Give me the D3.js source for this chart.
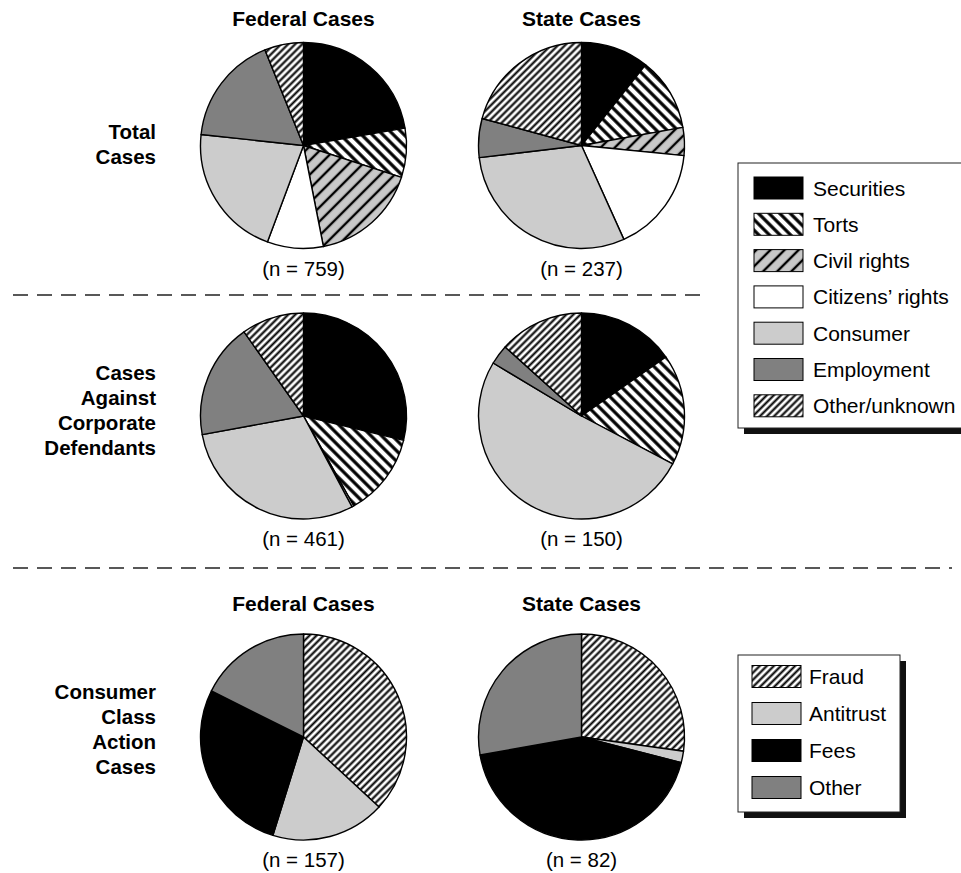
<!DOCTYPE html>
<html>
<head>
<meta charset="utf-8">
<script src="https://cdnjs.cloudflare.com/ajax/libs/d3/7.8.5/d3.min.js"></script>
<style>
  body { margin: 0; background: #fff; }
  svg { display: block; font-family: "Liberation Sans", Arial, sans-serif; }
</style>
</head>
<body>
<div id="chart"></div>
<script>
/////////////////////////////////////////////
//////////////// Data ///////////////////////
/////////////////////////////////////////////

// case types (top two rows), percent of cases
var caseTypes = ["Securities", "Torts", "Civil rights", "Citizens\u2019 rights", "Consumer", "Employment", "Other/unknown"];
var totalFederal = [22.3, 7.7, 16.9, 8.8, 21.0, 17.2, 6.1];
var totalState   = [10.7, 11.5, 4.4, 16.7, 29.9, 6.1, 20.8];
var corpFederal  = [28.8, 13.1, 0, 0.3, 29.9, 18.1, 9.8];
var corpState    = [15.3, 17.4, 0, 0, 50.9, 3.1, 13.3];

// consumer case types (bottom row)
var consumerTypes   = ["Fraud", "Antitrust", "Fees", "Other"];
var consumerFederal = [36.9, 17.9, 27.6, 17.6];
var consumerState   = [27.2, 1.8, 43.2, 27.8];

var nLabels = ["(n = 759)", "(n = 237)", "(n = 461)", "(n = 150)", "(n = 157)", "(n = 82)"];
var colTitles = ["Federal Cases", "State Cases"];
var rowLabels = [["Total", "Cases"], ["Cases", "Against", "Corporate", "Defendants"], ["Consumer", "Class", "Action", "Cases"]];

/////////////////////////////////////////////
//////////////// Setup //////////////////////
/////////////////////////////////////////////

var width = 961, height = 873, radius = 103;

var svg = d3.select("#chart").append("svg")
  .attr("width", width)
  .attr("height", height);

// hatch patterns
var defs = svg.append("defs");
function hatch(id, bg, size, stroke, angle) {
  var p = defs.append("pattern")
    .attr("id", id)
    .attr("patternUnits", "userSpaceOnUse")
    .attr("width", size).attr("height", size)
    .attr("patternTransform", "rotate(" + angle + ")");
  p.append("rect").attr("width", size).attr("height", size).attr("fill", bg);
  p.append("line")
    .attr("x1", size / 2).attr("y1", -1)
    .attr("x2", size / 2).attr("y2", size + 1)
    .attr("stroke", "#000").attr("stroke-width", stroke);
}
hatch("torts", "#fff", 7.5, 3.2, -45);
hatch("civil", "#c8c8c8", 10, 2.4, 45);
hatch("other", "#fff", 5, 2.1, 45);

var caseFill = d3.scaleOrdinal()
  .domain(caseTypes)
  .range(["#000", "url(#torts)", "url(#civil)", "#fff", "#cccccc", "#808080", "url(#other)"]);

var consumerFill = d3.scaleOrdinal()
  .domain(consumerTypes)
  .range(["url(#other)", "#cccccc", "#000", "#808080"]);

var pie = d3.pie().sort(null).value(function (d) { return d.value; });
var arc = d3.arc().innerRadius(0).outerRadius(radius);

// column / row centres
var colX = d3.scaleOrdinal().domain([0, 1]).range([303.5, 581.5]);
var rowY = d3.scaleOrdinal().domain([0, 1, 2]).range([145.5, 416, 737]);

function drawPie(values, cats, fill, col, row, label) {
  var data = values.map(function (v, i) { return { cat: cats[i], value: v }; });
  var g = svg.append("g")
    .attr("transform", "translate(" + colX(col) + "," + rowY(row) + ")");

  g.selectAll("path")
    .data(pie(data).filter(function (d) { return d.data.value > 0; }))
    .enter().append("path")
    .attr("d", arc)
    .attr("fill", function (d) { return fill(d.data.cat); })
    .attr("stroke", "#000")
    .attr("stroke-width", 1.4)
    .attr("stroke-linejoin", "round");

  g.append("text")
    .attr("y", 130)
    .attr("text-anchor", "middle")
    .style("font-size", "20.5px")
    .text(label);
}

drawPie(totalFederal, caseTypes, caseFill, 0, 0, nLabels[0]);
drawPie(totalState, caseTypes, caseFill, 1, 0, nLabels[1]);
drawPie(corpFederal, caseTypes, caseFill, 0, 1, nLabels[2]);
drawPie(corpState, caseTypes, caseFill, 1, 1, nLabels[3]);
drawPie(consumerFederal, consumerTypes, consumerFill, 0, 2, nLabels[4]);
drawPie(consumerState, consumerTypes, consumerFill, 1, 2, nLabels[5]);

// column titles (top row and bottom row)
[26, 611].forEach(function (yy) {
  colTitles.forEach(function (t, i) {
    svg.append("text")
      .attr("x", colX(i)).attr("y", yy)
      .attr("text-anchor", "middle")
      .style("font-size", "21px")
      .style("font-weight", "bold")
      .text(t);
  });
});

// row labels
var rowFirstBaseline = [139, 380, 699];
rowLabels.forEach(function (lines, r) {
  var t = svg.append("text")
    .attr("text-anchor", "end")
    .style("font-size", "20.5px")
    .style("font-weight", "bold");
  lines.forEach(function (l, i) {
    t.append("tspan")
      .attr("x", 156)
      .attr("y", rowFirstBaseline[r] + i * 25)
      .text(l);
  });
});

// dashed separators
[[13, 700, 295], [13, 952, 568]].forEach(function (d) {
  svg.append("line")
    .attr("x1", d[0]).attr("x2", d[1])
    .attr("y1", d[2]).attr("y2", d[2])
    .attr("stroke", "#222")
    .attr("stroke-width", 1.5)
    .attr("stroke-dasharray", "15,9");
});

/////////////////////////////////////////////
//////////////// Legends ////////////////////
/////////////////////////////////////////////

function drawLegend(cats, fill, box, swatchX, swatchTop, step, textX) {
  svg.append("rect")
    .attr("x", box.x + 6).attr("y", box.y + 6)
    .attr("width", box.w).attr("height", box.h)
    .attr("fill", "#111");
  svg.append("rect")
    .attr("x", box.x).attr("y", box.y)
    .attr("width", box.w).attr("height", box.h)
    .attr("fill", "#fff")
    .attr("stroke", "#222").attr("stroke-width", 1);

  var item = svg.selectAll(null)
    .data(cats).enter().append("g")
    .attr("transform", function (d, i) { return "translate(0," + (swatchTop + i * step) + ")"; });

  item.append("rect")
    .attr("x", swatchX).attr("y", 0)
    .attr("width", 49).attr("height", 22)
    .attr("fill", function (d) { return fill(d); })
    .attr("stroke", "#000").attr("stroke-width", 1);

  item.append("text")
    .attr("x", textX).attr("y", 18.5)
    .style("font-size", "21px")
    .text(function (d) { return d; });
}

drawLegend(caseTypes, caseFill, { x: 738, y: 163, w: 232, h: 265 }, 754, 177, 36.3, 813);
drawLegend(consumerTypes, consumerFill, { x: 738, y: 655, w: 162, h: 157 }, 752, 665.5, 37, 809);
</script>
</body>
</html>
